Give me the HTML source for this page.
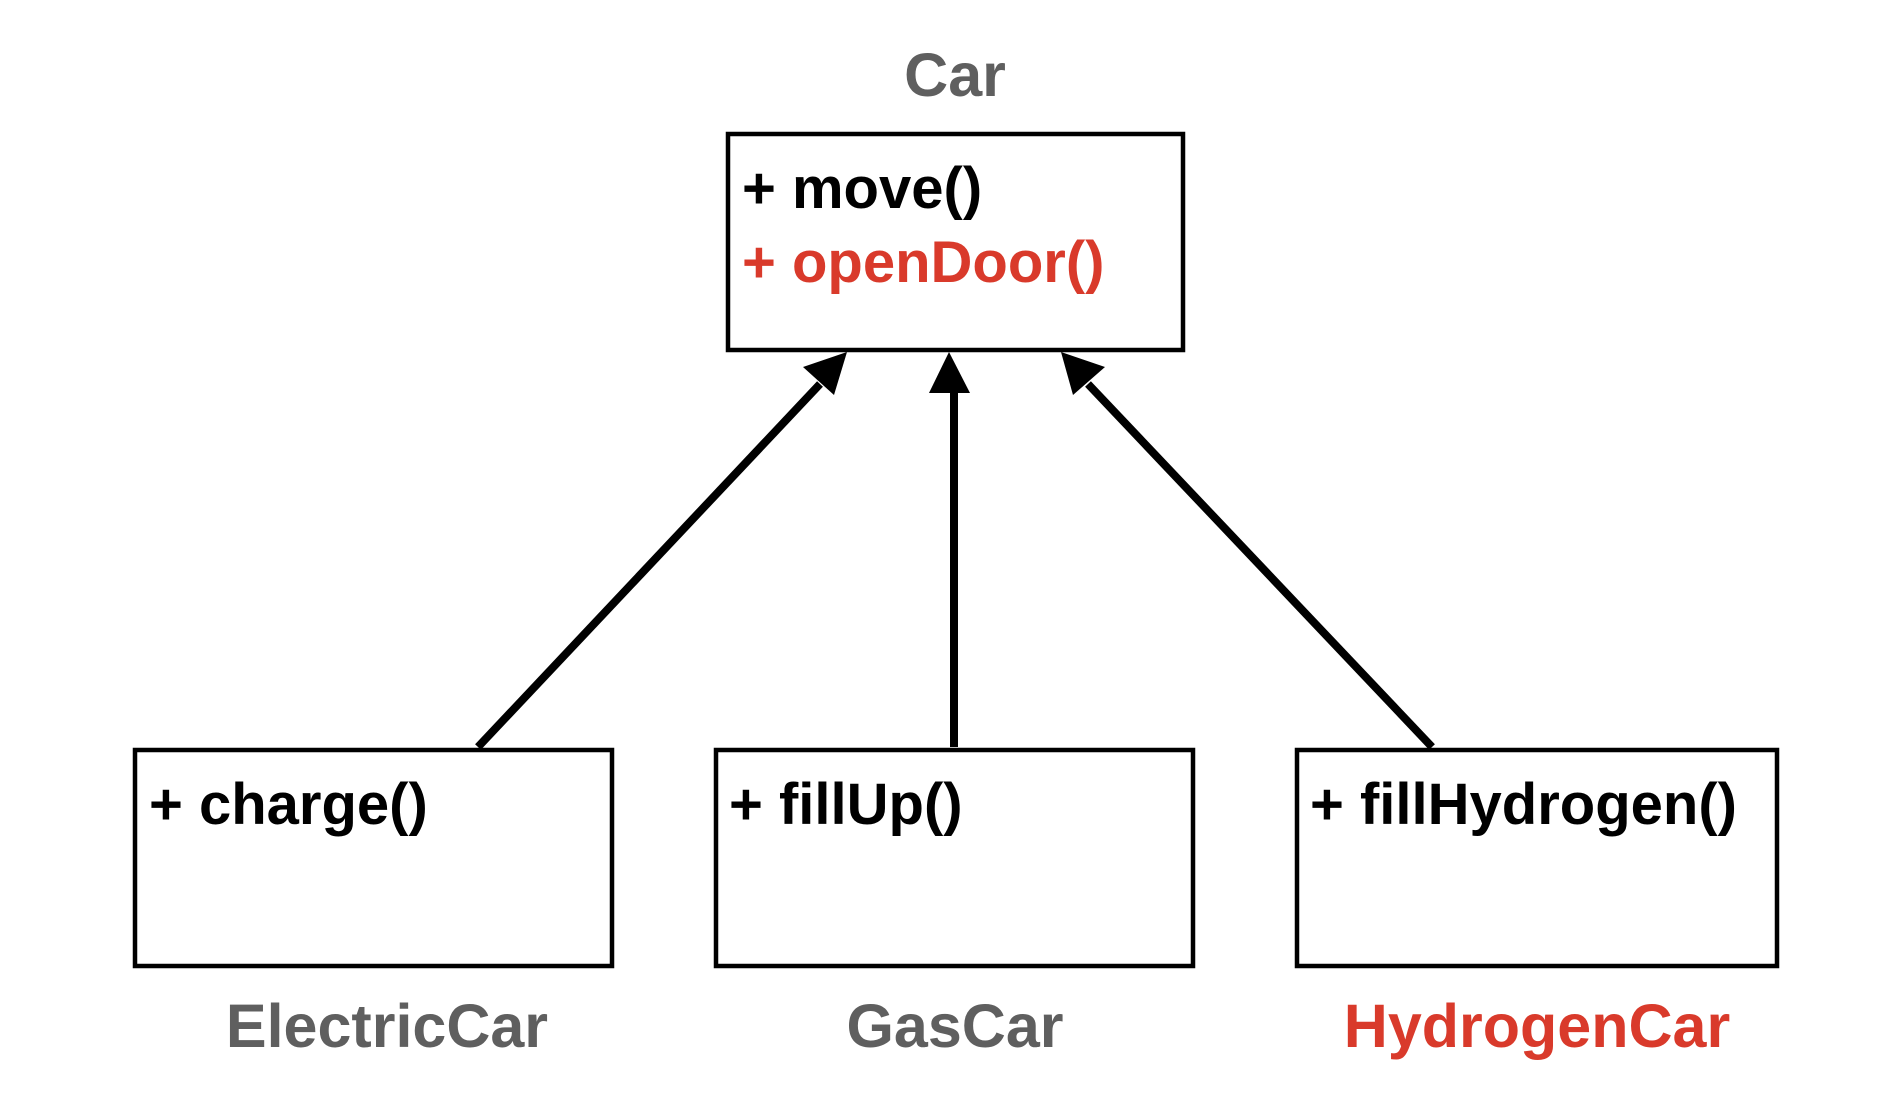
<!DOCTYPE html>
<html><head><style>
html,body{margin:0;padding:0;background:#fff;}
svg{display:block;}
text{font-family:"Liberation Sans",Arial,sans-serif;font-weight:bold;}
</style></head><body>
<svg width="1904" height="1102" viewBox="0 0 1904 1102" xmlns="http://www.w3.org/2000/svg">
<rect width="1904" height="1102" fill="#fff"/>
<g fill="none" stroke="#000" stroke-width="4.5">
<rect x="728" y="134" width="455" height="216"/>
<rect x="135" y="750" width="477" height="216"/>
<rect x="716" y="750" width="477" height="216"/>
<rect x="1297" y="750" width="480" height="216"/>
</g>
<g stroke="#000" stroke-width="8" fill="none">
<line x1="478" y1="747" x2="820" y2="384"/>
<line x1="954" y1="747" x2="954" y2="390"/>
<line x1="1432" y1="747" x2="1088" y2="384"/>
</g>
<g fill="#000">
<polygon points="949,352 929,393 970,393"/>
<polygon points="847,352 803,367 834,395"/>
<polygon points="1061,352 1073,395 1105,367"/>
</g>
<text x="955" y="96" font-size="61" fill="#5f5f5f" text-anchor="middle">Car</text>
<text x="742" y="208" font-size="58" fill="#000">+ move()</text>
<text x="742" y="282" font-size="58" fill="#d93a2b">+ openDoor()</text>
<text x="149" y="824" font-size="58" fill="#000">+ charge()</text>
<text x="729" y="824" font-size="58" fill="#000">+ fillUp()</text>
<text x="1310" y="824" font-size="58" fill="#000">+ fillHydrogen()</text>
<text x="387" y="1047" font-size="61" fill="#5f5f5f" text-anchor="middle">ElectricCar</text>
<text x="955" y="1047" font-size="61" fill="#5f5f5f" text-anchor="middle">GasCar</text>
<text x="1537" y="1047" font-size="61" fill="#d93a2b" text-anchor="middle">HydrogenCar</text>
</svg>
</body></html>
